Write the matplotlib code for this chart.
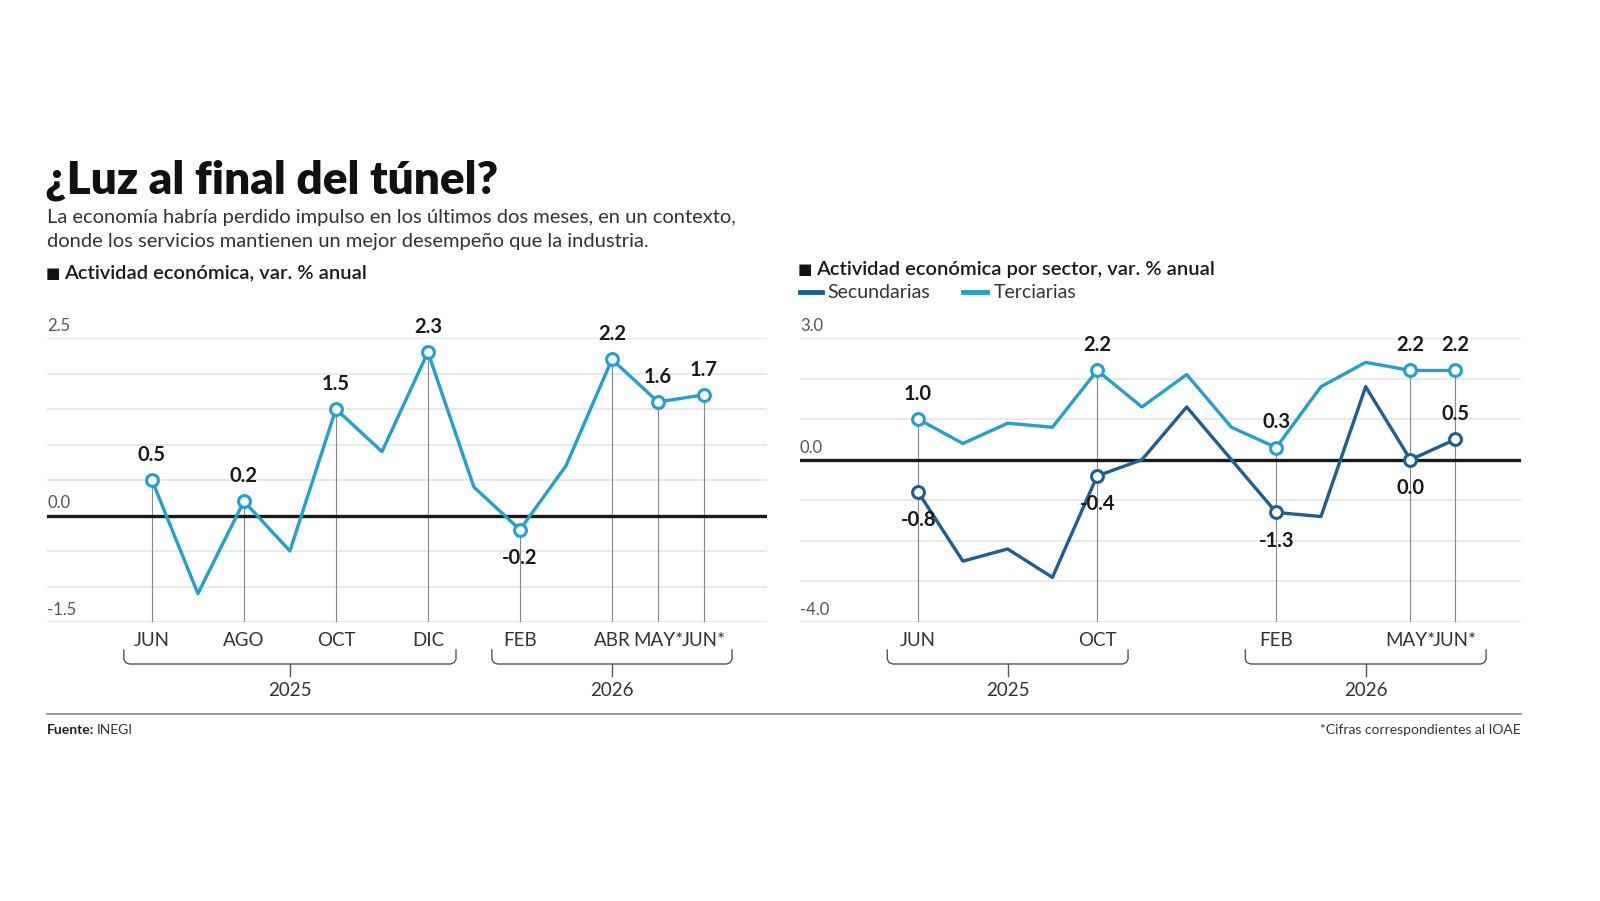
import matplotlib
matplotlib.use("Agg")
import matplotlib.pyplot as plt
from matplotlib.transforms import blended_transform_factory
from matplotlib.lines import Line2D

FONT = ["Lato", "DejaVu Sans"]
plt.rcParams["font.family"] = FONT

# ---------------- data ----------------
months = ["JUN", "JUL", "AGO", "SEP", "OCT", "NOV", "DIC", "ENE", "FEB", "MAR", "ABR", "MAY*", "JUN*"]
total = [0.5, -1.1, 0.2, -0.5, 1.5, 0.9, 2.3, 0.4, -0.2, 0.7, 2.2, 1.6, 1.7]
terciarias = [1.0, 0.4, 0.9, 0.8, 2.2, 1.3, 2.1, 0.8, 0.3, 1.8, 2.4, 2.2, 2.2]
secundarias = [-0.8, -2.5, -2.2, -2.9, -0.4, 0.0, 1.3, 0.0, -1.3, -1.4, 1.8, 0.0, 0.5]
left_labeled = [0, 2, 4, 6, 8, 10, 11, 12]
right_labeled = [0, 4, 8, 11, 12]
years = ["2025", "2026"]
left_groups = [(0, 6), (8, 12)]
right_groups = [(0, 4), (8, 12)]

LIGHT = "#22A0D2"
DARK = "#1B5F97"
W, H = 1600, 901

fig = plt.figure(figsize=(16, 9.01), dpi=100)
fig.patch.set_facecolor("white")


def fx(px):
    return px / W


def fy(py):
    return 1 - py / H


def make_ax(x0, x1, y0, y1):
    return fig.add_axes([fx(x0), fy(y1), fx(x1) - fx(x0), fy(y0) - fy(y1)])


x = list(range(len(months)))

axL = make_ax(47, 767, 338, 622)
axL.set_xlim(-2.28, 13.37)
axL.set_ylim(-1.5, 2.5)

axR = make_ax(800, 1521, 338, 622)
axR.set_xlim(-2.64, 13.47)
axR.set_ylim(-4.0, 3.0)

for ax, step, lo, hi in [(axL, 0.5, -1.5, 2.5), (axR, 1.0, -4.0, 3.0)]:
    for s in ax.spines.values():
        s.set_visible(False)
    ax.set_xticks([])
    ax.set_yticks([])
    v = lo
    while v <= hi + 1e-9:
        if abs(v) > 1e-9:
            ax.axhline(v, color="#e3e3e3", lw=1.1, zorder=0)
        v += step
    ax.axhline(0, color="#1a1a1a", lw=2.4, zorder=2)
    for val in (hi, 0.0, lo):
        ax.annotate(f"{val:.1f}", xy=(0, val), xycoords=("axes fraction", "data"),
                    xytext=(0, 3), textcoords="offset points", ha="left", va="bottom",
                    fontsize=12, color="#555555")

# left series
for i in left_labeled:
    axL.plot([i, i], [-1.5, total[i]], color="#888888", lw=0.8, zorder=1)
axL.plot(x, total, color=LIGHT, lw=2.4, zorder=3)
axL.plot(left_labeled, [total[i] for i in left_labeled], "o", ms=8.5, mfc="white",
         mec=LIGHT, mew=2.2, zorder=4, ls="none")
for i in left_labeled:
    below = total[i] < 0
    axL.annotate(f"{total[i]:.1f}", xy=(i, total[i]), xytext=(0, -13 if below else 11),
                 textcoords="offset points", ha="center", va="top" if below else "bottom",
                 fontsize=14.5, fontweight="bold", color="#1a1a1a", zorder=5)

# right series
for i in right_labeled:
    axR.plot([i, i], [-4.0, max(terciarias[i], secundarias[i])], color="#888888", lw=0.8, zorder=1)
axR.plot(x, terciarias, color=LIGHT, lw=2.4, zorder=3)
axR.plot(x, secundarias, color=DARK, lw=2.4, zorder=3)
axR.plot(right_labeled, [terciarias[i] for i in right_labeled], "o", ms=8.5, mfc="white",
         mec=LIGHT, mew=2.2, zorder=4, ls="none")
axR.plot(right_labeled, [secundarias[i] for i in right_labeled], "o", ms=8.5, mfc="white",
         mec=DARK, mew=2.2, zorder=4, ls="none")
for i in right_labeled:
    axR.annotate(f"{terciarias[i]:.1f}", xy=(i, terciarias[i]), xytext=(0, 11),
                 textcoords="offset points", ha="center", va="bottom",
                 fontsize=14.5, fontweight="bold", color="#1a1a1a", zorder=5)
    up = i == len(months) - 1
    axR.annotate(f"{secundarias[i]:.1f}", xy=(i, secundarias[i]), xytext=(0, 11 if up else -13),
                 textcoords="offset points", ha="center", va="bottom" if up else "top",
                 fontsize=14.5, fontweight="bold", color="#1a1a1a", zorder=5)


def axis_below(ax, labeled, groups, pad):
    tr = blended_transform_factory(ax.transData, fig.transFigure)
    for i in labeled:
        ax.text(i, fy(641), months[i], transform=tr, ha="center", va="center",
                fontsize=13.5, color="#333333")
    for (a, b), yr in zip(groups, years):
        x0, x1 = a - pad, b + pad
        xm = (a + b) / 2
        r = 0.12
        xs = [x0, x0, x0 + r * 0.3, x0 + r, x1 - r, x1 - r * 0.3, x1, x1]
        ys = [fy(650), fy(659), fy(662.5), fy(664), fy(664), fy(662.5), fy(659), fy(650)]
        fig.add_artist(Line2D(xs, ys, transform=tr, color="#555555", lw=1.0))
        fig.add_artist(Line2D([xm, xm], [fy(664), fy(676)], transform=tr, color="#555555", lw=1.0))
        ax.text(xm, fy(691), yr, transform=tr, ha="center", va="center",
                fontsize=13.5, color="#333333")


axis_below(axL, left_labeled, left_groups, 0.61)
axis_below(axR, right_labeled, right_groups, 0.69)

# ---------------- text ----------------
fig.text(fx(45), fy(180), "¿Luz al final del túnel?", ha="left", va="center",
         fontsize=33, fontweight="heavy", color="#111111")
fig.text(fx(47), fy(217), "La economía habría perdido impulso en los últimos dos meses, en un contexto,",
         ha="left", va="center", fontsize=14.5, color="#333333")
fig.text(fx(47), fy(241), "donde los servicios mantienen un mejor desempeño que la industria.",
         ha="left", va="center", fontsize=14.5, color="#333333")

fig.text(fx(46), fy(273), "■", ha="left", va="center", fontsize=11, color="#111111",
         family=["DejaVu Sans"])
fig.text(fx(64), fy(273), "Actividad económica, var. % anual", ha="left", va="center",
         fontsize=14.5, fontweight="semibold", color="#1a1a1a")
fig.text(fx(798), fy(269), "■", ha="left", va="center", fontsize=11, color="#111111",
         family=["DejaVu Sans"])
fig.text(fx(816), fy(269), "Actividad económica por sector, var. % anual", ha="left", va="center",
         fontsize=14.5, fontweight="semibold", color="#1a1a1a")

fig.add_artist(Line2D([fx(800), fx(822)], [fy(292), fy(292)], color=DARK, lw=3.5))
fig.text(fx(827), fy(292), "Secundarias", ha="left", va="center", fontsize=14, color="#333333")
fig.add_artist(Line2D([fx(963), fx(987)], [fy(292), fy(292)], color=LIGHT, lw=3.5))
fig.text(fx(994), fy(292), "Terciarias", ha="left", va="center", fontsize=14, color="#333333")

# footer
fig.add_artist(Line2D([fx(47), fx(1521)], [fy(714), fy(714)], color="#8a8a8a", lw=1.2))
fig.text(fx(47), fy(730), "Fuente:", ha="left", va="center", fontsize=10, fontweight="bold",
         color="#222222")
fig.text(fx(97), fy(730), "INEGI", ha="left", va="center", fontsize=10, color="#333333")
fig.text(fx(1521), fy(730), "*Cifras correspondientes al IOAE", ha="right", va="center",
         fontsize=10, color="#333333")

fig.savefig("out.png", dpi=100, facecolor="white")
